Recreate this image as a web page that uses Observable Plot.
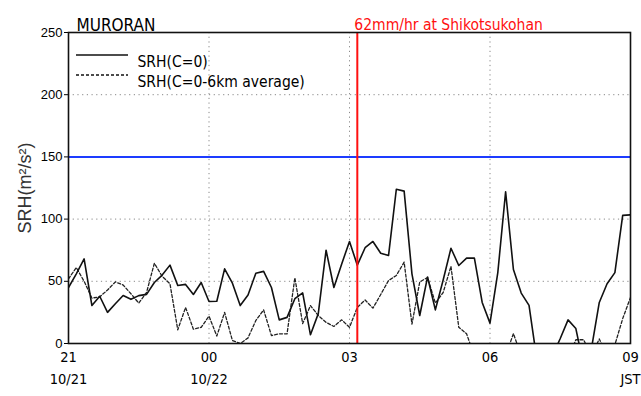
<!DOCTYPE html>
<html>
<head>
<meta charset="utf-8">
<script src="https://cdn.jsdelivr.net/npm/d3@7"></script>
<script src="https://cdn.jsdelivr.net/npm/@observablehq/plot@0.6"></script>
<style>
  html, body { margin: 0; padding: 0; background: #fff; }
  #chart svg { display: block; }
</style>
</head>
<body>
<div id="chart"></div>
<script>
// ---- data (10-minute steps from 10/21 21:00 JST to 10/22 09:00 JST) ----
const stationName = "MURORAN";
const stepMinutes = 10;
const srhC0 = [
  45, 56, 68, 30.5, 38, 25, 32, 38.6, 35.5, 38.5, 39.5, 49, 55,
  63, 46.6, 47.5, 39.4, 49, 33.8, 34, 60, 48.5, 30.5, 39, 56.5,
  58, 45, 19, 21, 36, 40.7, 7, 24, 75, 45, 64, 82,
  63, 77, 82, 72.6, 70.7, 124, 122.5, 56, 22.5, 53.5, 27, 51,
  76.6, 62.7, 68.6, 68.6, 33, 16.4, 57, 122, 59.5, 40.5, 30.7, -13,
  -25, -10, 4, 19, 12, -18, -4, 33, 48, 57, 103, 103.4
];
const srhAvg = [
  52, 61, 50, 36.5, 37.5, 43, 49.5, 47, 40, 32.5, 41, 64.5, 54,
  48, 11, 29, 11.5, 13, 22, 6, 25, 2.4, 0, 4.5, 18.5,
  27, 6.4, 7.8, 7.8, 52.8, 16, 30.5, 22.5, 17, 13.7, 19, 13,
  29, 35, 28.4, 39.4, 50.6, 54.7, 65.4, 15.5, 49.5, 53, 32.5, 41,
  62, 13, 7.8, -10, -20, -20, -20, -10, 8, -10, -20, -20,
  -20, -20, -20, -12, 3, 3, -10, 3.7, -10, -1, 20, 37
];
const hourTicks = [0, 3, 6, 9, 12];
const hourLabels = ["21", "00", "03", "06", "09"];
const dateLabels = ["10/21", "10/22", "", "", "JST"];
const yTicks = [0, 50, 100, 150, 200, 250];
const gridYValues = [50, 100, 200];
const gridXValues = [3, 6, 9];
const thresholdSRH = 150;
const eventHour = 6 + 10 / 60;   // 03:10 JST
const eventLabel = "62mm/hr at Shikotsukohan";
const legendNames = ["SRH(C=0)", "SRH(C=0-6km average)"];
const yLabel = "SRH(m²/s²)";

const rowsC0 = srhC0.map((v, i) => ({h: i * stepMinutes / 60, v}));
const rowsAvg = srhAvg.map((v, i) => ({h: i * stepMinutes / 60, v}));

const font = "'DejaVu Sans Condensed', 'DejaVu Sans', sans-serif";
const mL = 68, mR = 11, mT = 32, mB = 53;
const legendDy = [23, 43];

const chart = Plot.plot({
  width: 641,
  height: 396,
  marginLeft: mL,
  marginRight: mR,
  marginTop: mT,
  marginBottom: mB,
  style: {fontFamily: "'Liberation Sans', Arial, sans-serif", fontSize: "13px", color: "#000", background: "#fff"},
  x: {domain: [0, 12], axis: null},
  y: {domain: [0, 250], ticks: yTicks, tickSize: 4, tickPadding: 2, label: null},
  marks: [
    Plot.gridY(gridYValues, {stroke: "#888", strokeOpacity: 1, strokeDasharray: "1.2,3.5", strokeWidth: 1}),
    Plot.gridX(gridXValues, {stroke: "#888", strokeOpacity: 1, strokeDasharray: "1.2,3.5", strokeWidth: 1}),
    Plot.ruleY([thresholdSRH], {stroke: "#1d3cff", strokeWidth: 2}),
    Plot.line(rowsAvg, {x: "h", y: "v", stroke: "#222", strokeWidth: 1.3, strokeDasharray: "3,2", clip: true}),
    Plot.line(rowsC0, {x: "h", y: "v", stroke: "#111", strokeWidth: 1.6, clip: true}),
    Plot.ruleX([eventHour], {stroke: "#ff1010", strokeWidth: 2}),
    Plot.frame({stroke: "#111", strokeWidth: 1.6}),
    Plot.text(hourTicks, {x: d => d, text: (d, i) => hourLabels[i], frameAnchor: "bottom", dy: 18,
      fontFamily: font, fontSize: 14.5, fill: "#000"}),
    Plot.text(hourTicks, {x: d => d, text: (d, i) => dateLabels[i], frameAnchor: "bottom", dy: 40,
      fontFamily: font, fontSize: 14.5, fill: "#000"}),
    Plot.text([stationName], {frameAnchor: "top-left", dx: 8, dy: -14, textAnchor: "start",
      fontFamily: font, fontSize: 17, fill: "#000"}),
    Plot.text([eventLabel], {x: () => eventHour, frameAnchor: "top", dx: -3, dy: -14, textAnchor: "start",
      fontFamily: font, fontSize: 15.5, fill: "#ff1010"}),
    Plot.text([yLabel], {frameAnchor: "left", dx: -43, rotate: -90, textAnchor: "middle",
      fontFamily: "'Liberation Sans', Arial, sans-serif", fontSize: 18, fill: "#333"}),
    Plot.text([legendNames[0]], {frameAnchor: "top-left", dx: 69, dy: legendDy[0], textAnchor: "start",
      fontFamily: font, fontSize: 15.5, fill: "#000"}),
    Plot.text([legendNames[1]], {frameAnchor: "top-left", dx: 69, dy: legendDy[1], textAnchor: "start",
      fontFamily: font, fontSize: 15.5, fill: "#000"})
  ]
});

// legend swatches (pixel offsets relative to the plot frame)
const svg = d3.select(chart);
const dashes = [null, "3,2"];
const widths = [1.6, 1.3];
legendNames.forEach((name, i) => {
  svg.append("line")
    .attr("x1", mL + 8).attr("x2", mL + 60)
    .attr("y1", mT + legendDy[i]).attr("y2", mT + legendDy[i])
    .attr("stroke", "#111").attr("stroke-width", widths[i])
    .attr("stroke-dasharray", dashes[i]);
});

document.getElementById("chart").appendChild(chart);
</script>
</body>
</html>
